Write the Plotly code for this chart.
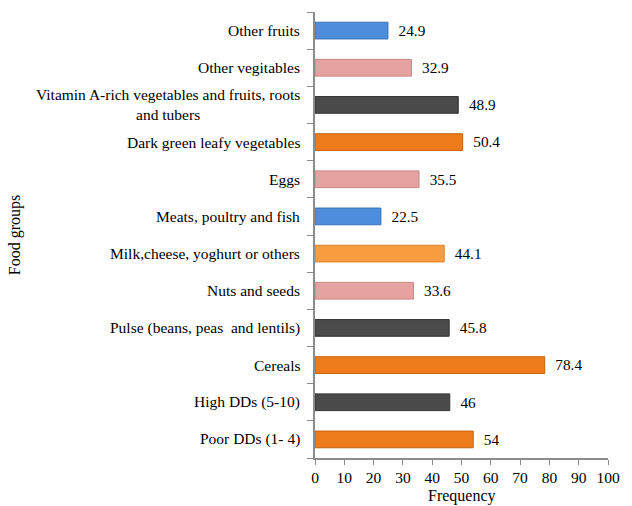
import plotly.graph_objects as go

categories = [
    "Poor DDs (1- 4)",
    "High DDs (5-10)",
    "Cereals",
    "Pulse (beans, peas  and lentils)",
    "Nuts and seeds",
    "Milk,cheese, yoghurt or others",
    "Meats, poultry and fish",
    "Eggs",
    "Dark green leafy vegetables",
    "Vitamin A-rich vegetables and fruits, roots<br>and tubers",
    "Other vegitables",
    "Other fruits",
]
values = [54, 46, 78.4, 45.8, 33.6, 44.1, 22.5, 35.5, 50.4, 48.9, 32.9, 24.9]

ORANGE = "#EE7B1C"
GRAY = "#4B4B4B"
PINK = "#E6A1A1"
LORANGE = "#F89D3F"
BLUE = "#4C8EDB"
colors = [ORANGE, GRAY, ORANGE, GRAY, PINK, LORANGE, BLUE, PINK, ORANGE, GRAY, PINK, BLUE]
outlines = ["#C9620F", "#333333", "#C9620F", "#333333", "#C98585", "#D9802A", "#3A72B8", "#C98585", "#C9620F", "#333333", "#C98585", "#3A72B8"]

FONT = "Times New Roman, DejaVu Serif, serif"

fig = go.Figure(go.Bar(
    x=values,
    y=categories,
    orientation="h",
    marker=dict(color=colors, line=dict(color=outlines, width=1)),
    text=values,
    texttemplate="  %{x}",
    textposition="outside",
    textfont=dict(family=FONT, size=15.5, color="#000"),
    cliponaxis=False,
))

annotations = []
for c in categories:
    annotations.append(dict(
        x=-0.045, xref="paper", y=c, yref="y",
        text=c, showarrow=False, xanchor="right", align="center",
        font=dict(family=FONT, size=15.5, color="#000"),
    ))

fig.update_layout(
    width=632, height=506,
    margin=dict(l=315, r=13, t=12, b=48),
    paper_bgcolor="white", plot_bgcolor="white",
    bargap=0.55,
    showlegend=False,
    font=dict(family=FONT, size=15.5, color="#000"),
    annotations=annotations + [
        dict(x=0.5, xref="paper", y=-0.06, yref="paper", text="Frequency",
             showarrow=False, xanchor="center", yanchor="top",
             font=dict(family=FONT, size=16, color="#000")),
        dict(x=(-315 + 4) / 304, xref="paper", y=0.5, yref="paper",
             text="Food groups", textangle=-90, showarrow=False,
             xanchor="center", yanchor="middle",
             font=dict(family=FONT, size=16, color="#000")),
    ],
    xaxis=dict(
        range=[0, 100], dtick=10, tick0=0,
        showgrid=False, zeroline=False,
        showline=True, linecolor="#8C8C8C", linewidth=1.5,
        ticks="outside", ticklen=5, tickcolor="#8C8C8C",
        tickfont=dict(family=FONT, size=15.5, color="#000"),
    ),
    yaxis=dict(
        type="category",
        showticklabels=False,
        showgrid=False, zeroline=False,
        showline=True, linecolor="#8C8C8C", linewidth=1.5,
        ticks="outside", ticklen=6, tickcolor="#8C8C8C",
        tickson="boundaries",
    ),
)

fig.write_html("out.html")
